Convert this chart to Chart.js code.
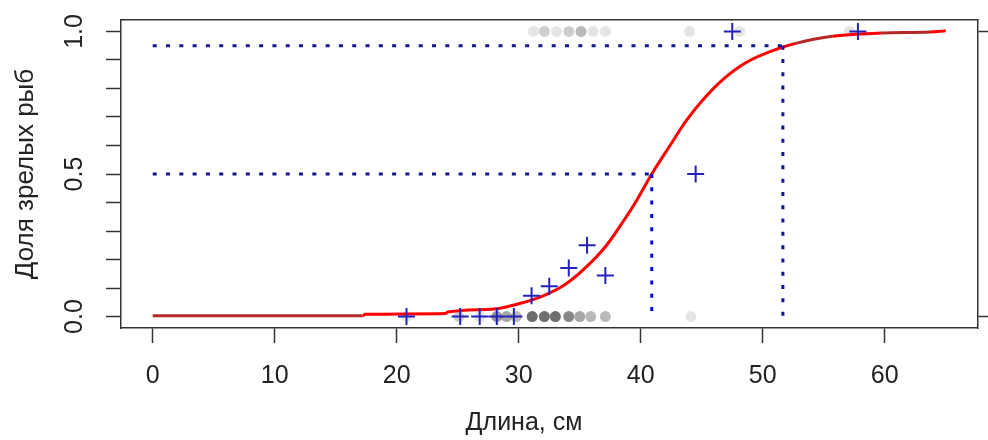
<!DOCTYPE html>
<html>
<head>
<meta charset="utf-8">
<script src="https://cdn.jsdelivr.net/npm/chart.js@4"></script>
<style>
  body { margin: 0; background: #fff; }
  canvas { display: block; }
</style>
</head>
<body>
<canvas id="chart" width="988" height="440"></canvas>
<script>
const FONT = '"Liberation Sans", Arial, sans-serif';

// axes
const xTicks = [0, 10, 20, 30, 40, 50, 60];
const yTicks = [0, 0.1, 0.2, 0.3, 0.4, 0.5, 0.6, 0.7, 0.8, 0.9, 1.0];
const yTickLabels = [0, 0.5, 1.0];
const xTitle = "Длина, см";
const yTitle = "Доля зрелых рыб";

// proportion of mature fish by length (blue +)
const propLen = [20.8, 25.2, 26.8, 28.2, 29.6, 31.05, 32.5, 34.1, 35.6, 37.1, 44.5, 47.5, 57.8];
const propVal = [0, 0, 0, 0, 0, 0.073, 0.106, 0.17, 0.25, 0.144, 0.5, 1, 1];

// individual fish (grey dots): length and how many overlap there
const immLen = [20.8, 25.1, 26.8, 28.2, 29.0, 29.8, 31.1, 32.1, 33.0, 34.1, 35.0, 35.9, 37.1, 44.1];
const immCount = [1, 2, 1, 5, 4, 3, 8, 8, 8, 6, 4, 3, 3, 1];
const matLen = [31.2, 32.1, 33.1, 34.1, 35.1, 36.1, 37.1, 44.0, 48.1, 57.1];
const matCount = [1, 2, 1, 2, 3, 1, 1, 1, 1, 1];

// fitted curve
const curveX = [0, 17.2, 17.4, 24, 24.2, 28, 30, 32, 33.7, 35.3, 37.1, 38.5, 39.7, 40.9, 42.4, 43.7, 45.1, 46.7, 48.6, 51.3, 52.7, 55.7, 59.7, 63.7, 65];
const curveY = [0.003, 0.003, 0.008, 0.011, 0.016, 0.027, 0.045, 0.073, 0.11, 0.165, 0.245, 0.33, 0.41, 0.50, 0.60, 0.685, 0.76, 0.83, 0.89, 0.94, 0.958, 0.983, 0.994, 0.998, 1.002];

// L50 / L95
const l50 = 40.9, p50 = 0.5;
const l95 = 51.65, p95 = 0.95;

const darkRanges = [[0, 17.2], [52.7, 55.7], [59.7, 63.7]];

function repeatPoints(xs, counts, y) {
  const out = [];
  xs.forEach((x, i) => { for (let k = 0; k < counts[i]; k++) out.push({ x: x, y: y }); });
  return out;
}

const dots = repeatPoints(immLen, immCount, 0).concat(repeatPoints(matLen, matCount, 1));

function dotted(points, color) {
  return {
    type: 'line', data: points, borderColor: color, borderWidth: 3,
    borderDash: [4, 9.3], pointRadius: 0, order: 1
  };
}

const textPlugin = {
  id: 'rtext',
  afterDraw(chart) {
    const ctx = chart.ctx;
    const ys = chart.scales.y;
    const area = chart.chartArea;
    ctx.save();
    ctx.fillStyle = '#222';
    ctx.textAlign = 'center';
    ctx.textBaseline = 'alphabetic';
    ctx.font = '25px ' + FONT;
    yTickLabels.forEach(v => {
      ctx.save();
      ctx.translate(82, ys.getPixelForValue(v));
      ctx.rotate(-Math.PI / 2);
      ctx.fillText(v.toFixed(1), 0, 0);
      ctx.restore();
    });
    ctx.save();
    ctx.font = '26px ' + FONT;
    ctx.translate(33, (area.top + area.bottom) / 2);
    ctx.rotate(-Math.PI / 2);
    ctx.fillText(yTitle, 0, 0);
    ctx.restore();
    ctx.font = '25px ' + FONT;
    ctx.fillText(xTitle, 524, 430);
    ctx.restore();
  }
};

const axisColor = '#333';
const tickGrid = { drawOnChartArea: false, drawTicks: true, tickLength: 15, tickColor: axisColor, tickWidth: 1.5 };
const border = { display: true, color: axisColor, width: 1.5 };

new Chart(document.getElementById('chart'), {
  type: 'scatter',
  data: {
    datasets: [
      {
        data: propLen.map((x, i) => ({ x: x, y: propVal[i] })),
        pointStyle: 'cross', pointRadius: 8.5, borderColor: '#2222bb',
        borderWidth: 2, backgroundColor: '#2222bb', order: 0
      },
      dotted([{ x: 0, y: p50 }, { x: l50, y: p50 }], '#16168f'),
      dotted([{ x: l50, y: p50 }, { x: l50, y: 0 }], '#0000ee'),
      dotted([{ x: 0, y: p95 }, { x: l95, y: p95 }], '#16168f'),
      dotted([{ x: l95, y: p95 }, { x: l95, y: 0 }], '#101099'),
      {
        type: 'line',
        data: curveX.map((x, i) => ({ x: x, y: curveY[i] })),
        borderColor: '#ff0000', borderWidth: 3, pointRadius: 0,
        cubicInterpolationMode: 'monotone', order: 2,
        segment: {
          borderColor: c => darkRanges.some(r => c.p0.parsed.x >= r[0] && c.p1.parsed.x <= r[1]) ? '#b42828' : '#ff0000'
        }
      },
      {
        data: dots, pointRadius: 5.5, borderWidth: 0,
        backgroundColor: 'rgba(0,0,0,0.1)', order: 3
      }
    ]
  },
  options: {
    responsive: false,
    animation: false,
    devicePixelRatio: 1,
    layout: { padding: 0 },
    plugins: { legend: { display: false }, tooltip: { enabled: false } },
    scales: {
      x: {
        type: 'linear', position: 'bottom', min: -2.6, max: 67.6,
        afterBuildTicks: s => { s.ticks = xTicks.map(v => ({ value: v })); },
        afterFit: s => { s.height = 112; },
        ticks: { font: { family: FONT, size: 25 }, color: '#222', padding: 18, maxRotation: 0, autoSkip: false },
        grid: tickGrid, border: border
      },
      x2: {
        type: 'linear', position: 'top', min: -2.6, max: 67.6,
        afterFit: s => { s.height = 20; },
        ticks: { display: false }, grid: { display: false }, border: border
      },
      y: {
        type: 'linear', position: 'left', min: -0.04, max: 1.04,
        afterBuildTicks: s => { s.ticks = yTicks.map(v => ({ value: v })); },
        afterFit: s => { s.width = 121; },
        ticks: { display: false }, grid: tickGrid, border: border
      },
      y2: {
        type: 'linear', position: 'right', min: -0.04, max: 1.04,
        afterBuildTicks: s => { s.ticks = [0, 1].map(v => ({ value: v })); },
        afterFit: s => { s.width = 5; },
        ticks: { display: false }, grid: tickGrid, border: border
      }
    }
  },
  plugins: [textPlugin]
});
</script>
</body>
</html>
